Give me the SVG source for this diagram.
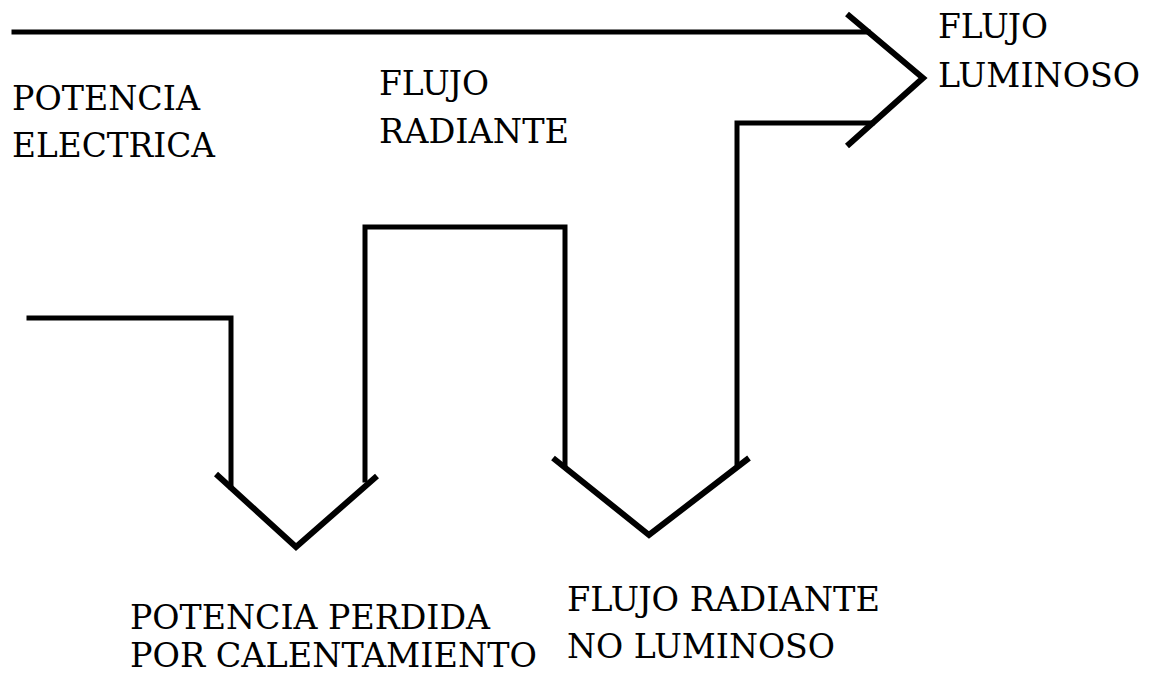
<svg xmlns="http://www.w3.org/2000/svg" width="1149" height="675" viewBox="0 0 1149 675">
<style>
.ln{fill:none;stroke:#000;stroke-width:5;stroke-linejoin:miter;stroke-linecap:square}
.hd{fill:none;stroke:#000;stroke-width:6;stroke-linejoin:miter;stroke-linecap:butt}
text{font-family:'DejaVu Serif','Liberation Serif',serif;font-size:33px;fill:#000}
</style>
<rect width="1149" height="675" fill="#fff"/>
<g id="connectors">
<path class="ln" d="M14,32 H868"/>
<path class="ln" d="M737,463 V123 H872"/>
<path class="hd" d="M847,14 L923,78 L847,146"/>
<path class="ln" d="M29,318 H231 V487"/>
<path class="ln" d="M365,480 V227 H565 V466"/>
<path class="hd" d="M216,474 L296,547 L377,476"/>
<path class="hd" d="M553,458 L649,535 L749,458"/>
</g>
<g id="potencia-electrica"><text x="12" y="110" textLength="188" lengthAdjust="spacingAndGlyphs">POTENCIA</text><text x="12" y="157" textLength="203" lengthAdjust="spacingAndGlyphs">ELECTRICA</text></g>
<g id="flujo-radiante"><text x="379" y="95" textLength="110" lengthAdjust="spacingAndGlyphs">FLUJO</text><text x="379" y="143" textLength="190" lengthAdjust="spacingAndGlyphs">RADIANTE</text></g>
<g id="flujo-luminoso"><text x="938" y="38" textLength="110" lengthAdjust="spacingAndGlyphs">FLUJO</text><text x="938" y="87" textLength="202" lengthAdjust="spacingAndGlyphs">LUMINOSO</text></g>
<g id="potencia-perdida"><text x="130" y="629" textLength="360" lengthAdjust="spacingAndGlyphs">POTENCIA PERDIDA</text><text x="130" y="667" textLength="407" lengthAdjust="spacingAndGlyphs">POR CALENTAMIENTO</text></g>
<g id="flujo-no-luminoso"><text x="567" y="611" textLength="313" lengthAdjust="spacingAndGlyphs">FLUJO RADIANTE</text><text x="567" y="658" textLength="268" lengthAdjust="spacingAndGlyphs">NO LUMINOSO</text></g>
</svg>
